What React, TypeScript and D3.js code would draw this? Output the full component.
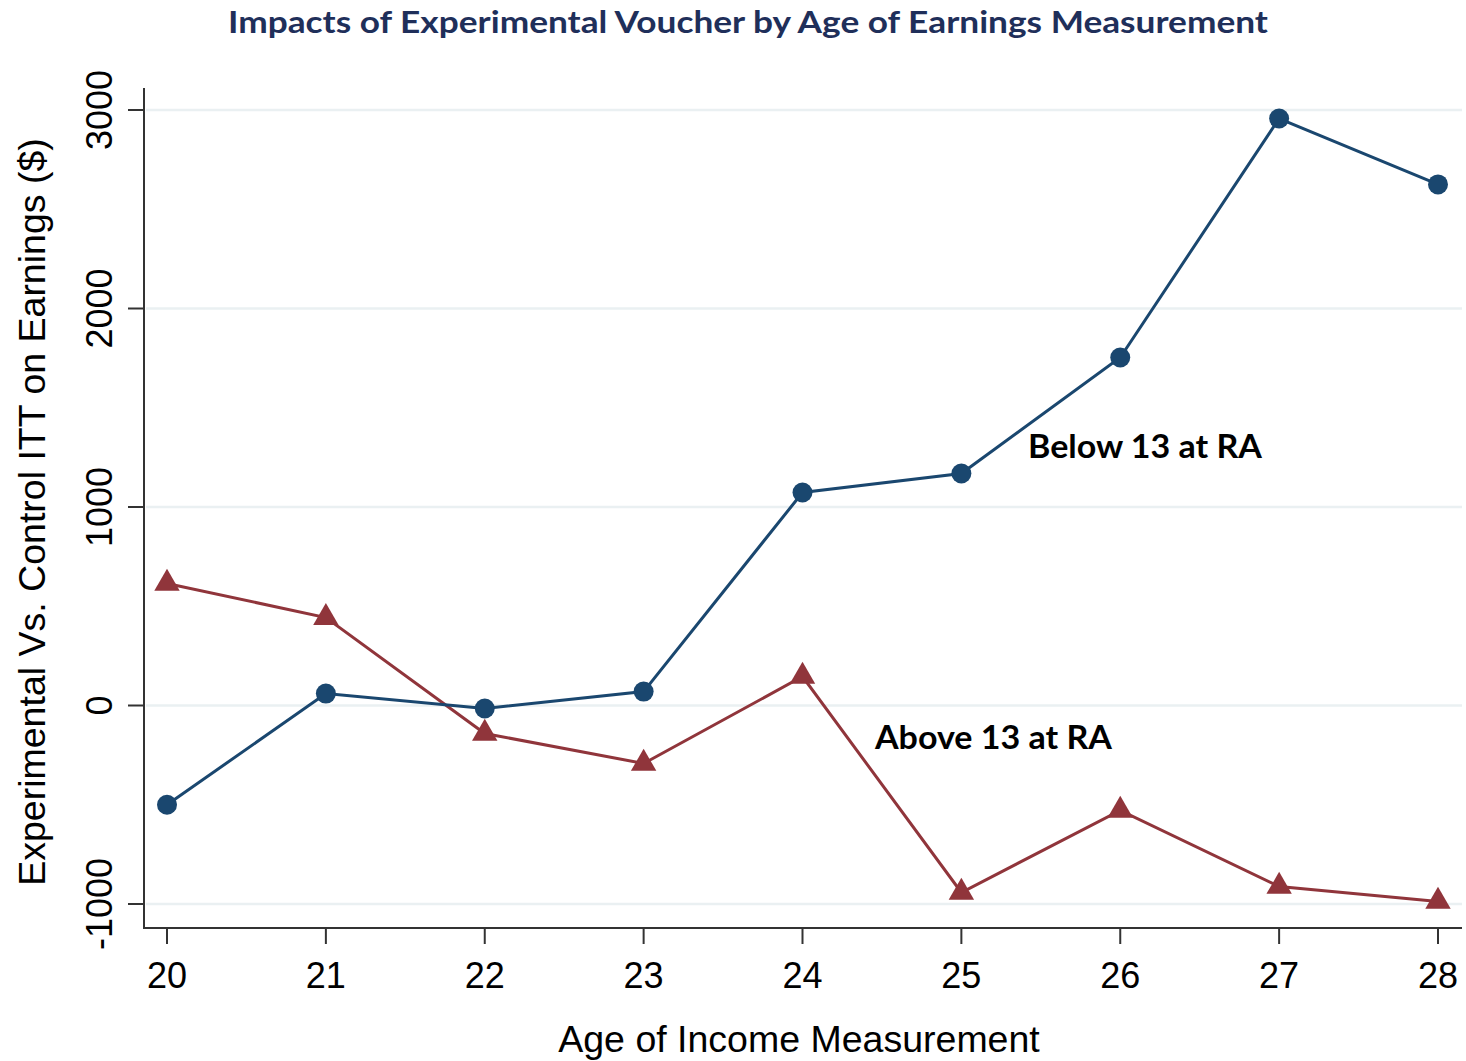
import React from 'react';
import * as d3 from 'd3';

const ages = [20, 21, 22, 23, 24, 25, 26, 27, 28];
const below13 = [-500, 60, -15, 70, 1073, 1169, 1753, 2957, 2625];
const above13 = [615, 443, -141, -292, 146, -942, -529, -912, -987];
const yTicks = [-1000, 0, 1000, 2000, 3000];

const W = 1466;
const H = 1061;
const BLUE = '#1a476f';
const RED = '#90353b';

const App = () => {
    // plot frame
    const left = 144;
    const right = 1462;
    const top = 88;
    const bottom = 928;

    const xScale = d3.scaleLinear().domain([20, 28]).range([167, 1438]);
    const yScale = d3.scaleLinear().domain([-1000, 3000]).range([904, 110]);

    const line = d3.line<number>()
        .x((d, i) => xScale(ages[i]))
        .y(d => yScale(d));

    const tri = d3.symbol().type(d3.symbolTriangle).size(280)();

    const axisFont = '"Liberation Sans", Arial, sans-serif';
    const boldFont = 'Lato, "Open Sans", sans-serif';

    return (
        <svg width={W} height={H} style={{ position: 'absolute', left: 0, top: 0, background: '#fff' }}>
            <text x={228} y={33} fontFamily={boldFont} fontWeight="bold" fontSize={31}
                textLength={1040} lengthAdjust="spacingAndGlyphs" fill="#1f2f5a">
                Impacts of Experimental Voucher by Age of Earnings Measurement
            </text>

            {/* grid */}
            {yTicks.map(t => (
                <line key={'g' + t} x1={left + 2} x2={right} y1={yScale(t)} y2={yScale(t)}
                    stroke="#eaf0f2" strokeWidth={2.5} />
            ))}

            {/* axes */}
            <line x1={left} x2={left} y1={top} y2={bottom + 1} stroke="#333" strokeWidth={2} />
            <line x1={left} x2={right} y1={bottom} y2={bottom} stroke="#333" strokeWidth={2} />
            {yTicks.map(t => (
                <g key={'y' + t}>
                    <line x1={left - 16} x2={left} y1={yScale(t)} y2={yScale(t)} stroke="#333" strokeWidth={2} />
                    <text transform={`translate(112,${yScale(t)}) rotate(-90)`} textAnchor="middle"
                        fontFamily={axisFont} fontSize={36} fill="#000">{t}</text>
                </g>
            ))}
            {ages.map(a => (
                <g key={'x' + a}>
                    <line x1={xScale(a)} x2={xScale(a)} y1={bottom} y2={bottom + 16} stroke="#333" strokeWidth={2} />
                    <text x={xScale(a)} y={988} textAnchor="middle" fontFamily={axisFont} fontSize={36} fill="#000">{a}</text>
                </g>
            ))}

            <text x={799} y={1052} textAnchor="middle" fontFamily={axisFont} fontSize={37.5} fill="#000">
                Age of Income Measurement
            </text>
            <text transform="translate(45,512) rotate(-90)" textAnchor="middle" fontFamily={axisFont}
                fontSize={37.5} fill="#000">
                Experimental Vs. Control ITT on Earnings ($)
            </text>

            {/* series */}
            <path d={line(above13) || ''} fill="none" stroke={RED} strokeWidth={3} />
            {above13.map((v, i) => (
                <path key={'a' + i} d={tri || ''} fill={RED}
                    transform={`translate(${xScale(ages[i])},${yScale(v)})`} />
            ))}
            <path d={line(below13) || ''} fill="none" stroke={BLUE} strokeWidth={3} />
            {below13.map((v, i) => (
                <circle key={'b' + i} cx={xScale(ages[i])} cy={yScale(v)} r={10} fill={BLUE} />
            ))}

            <text x={1028} y={458} fontFamily={boldFont} fontWeight="bold" fontSize={32}
                textLength={234} lengthAdjust="spacingAndGlyphs" fill="#000">
                Below 13 at RA
            </text>
            <text x={875} y={749} fontFamily={boldFont} fontWeight="bold" fontSize={32}
                textLength={237} lengthAdjust="spacingAndGlyphs" fill="#000">
                Above 13 at RA
            </text>
        </svg>
    );
};

export default App;
